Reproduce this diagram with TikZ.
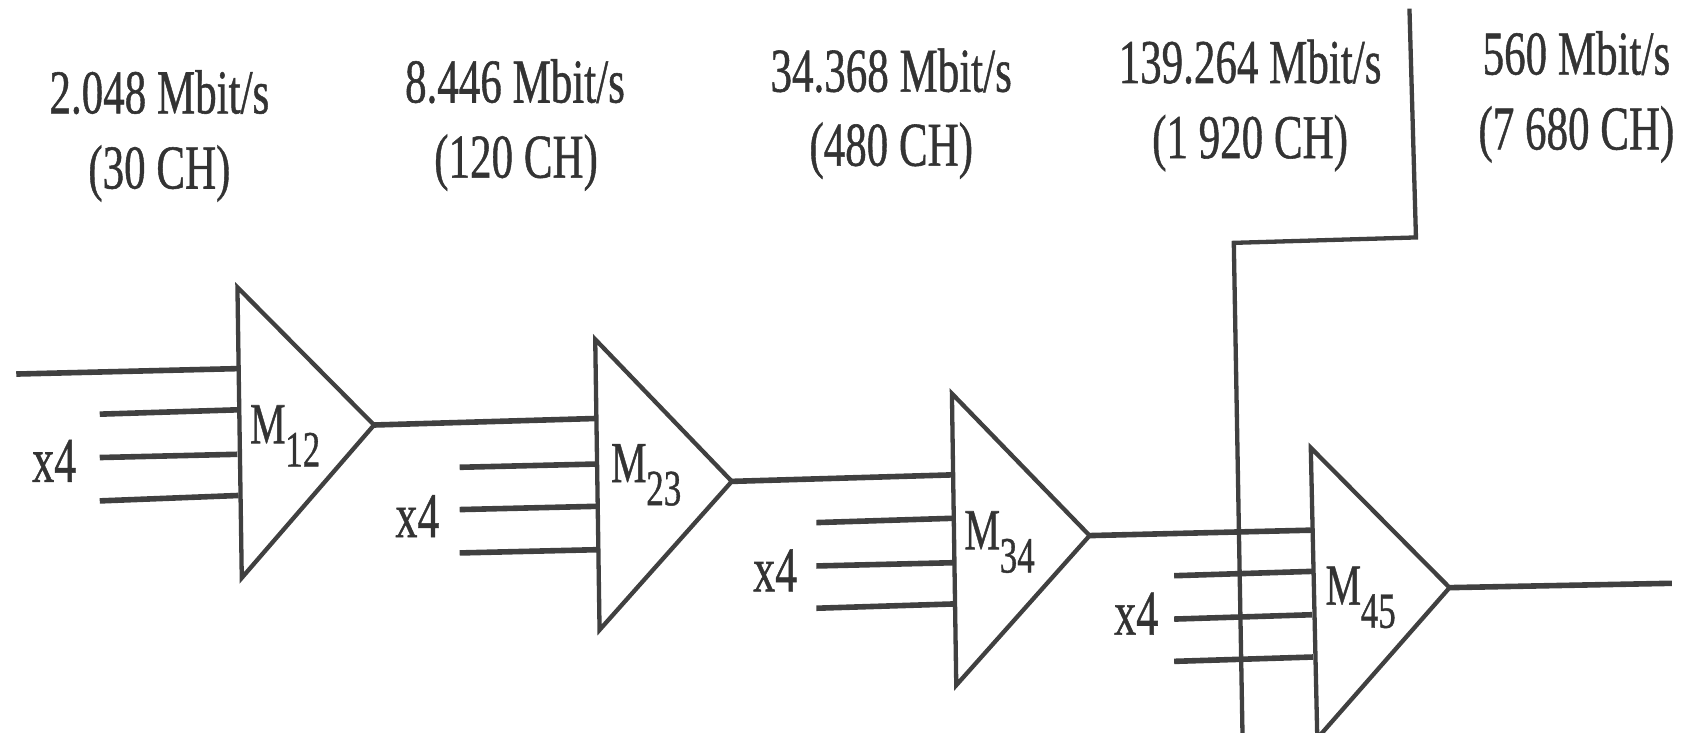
\documentclass[tikz,border=0pt]{standalone}
\usepackage{fontspec}
\setmainfont{Liberation Serif}
\newfontfamily\heavy[FakeBold=0.9]{Liberation Serif}
\definecolor{ink}{gray}{0.25}
\definecolor{txt}{gray}{0.2}
\newcommand{\lowidx}[1]{\raisebox{-0.4em}{\fontsize{35}{35}\selectfont\kern-0.01em #1}}
\tikzset{
  tri/.style={draw=ink,line width=4.3pt,line join=miter},
  wire/.style={draw=ink,line width=5.6pt},
  rate/.style={text=txt,font=\heavy\fontsize{43}{43}\selectfont,inner sep=0pt,transform shape,xscale=1,yscale=1.45,anchor=center},
  tag/.style={text=txt,font=\heavy\fontsize{44}{44}\selectfont,inner sep=0pt,transform shape,xscale=1,yscale=1.45,anchor=center},
  mlabel/.style={text=txt,font=\heavy\fontsize{40}{40}\selectfont,inner sep=0pt,transform shape,xscale=1,yscale=1.45,anchor=center}
}
\begin{document}
\begin{tikzpicture}[x=1.0842pt,y=-1.0842pt]
\useasboundingbox (0,0) rectangle (1568,675.2);
% rates
\node[rate] (r1a) at (147,85) {2.048 Mbit/s};
\node[rate] (r1b) at (147,160) {(30 CH)};
\node[rate] (r2a) at (475,75) {8.446 Mbit/s};
\node[rate] (r2b) at (476,150) {(120 CH)};
\node[rate] (r3a) at (822,65) {34.368 Mbit/s};
\node[rate] (r3b) at (822,139) {(480 CH)};
\node[rate] (r4a) at (1153,57) {139.264 Mbit/s};
\node[rate] (r4b) at (1153,132) {(1 920 CH)};
\node[rate] (r5a) at (1454,49) {560 Mbit/s};
\node[rate] (r5b) at (1454,124) {(7 680 CH)};
% triangle vertices
\coordinate (a1) at (219,265); \coordinate (b1) at (223,533); \coordinate (c1) at (345,392);
\coordinate (a2) at (549,313); \coordinate (b2) at (553,581); \coordinate (c2) at (675,444);
\coordinate (a3) at (878,363); \coordinate (b3) at (882,632); \coordinate (c3) at (1005,494);
\coordinate (a4) at (1209,413); \coordinate (b4) at (1215,681); \coordinate (c4) at (1337,542);
\draw[tri] (a1) -- (b1) -- (c1) -- cycle;
\draw[tri] (a2) -- (b2) -- (c2) -- cycle;
\draw[tri] (a3) -- (b3) -- (c3) -- cycle;
\draw[tri] (a4) -- (b4) -- (c4) -- cycle;
% M labels
\node[mlabel] (m12) at (263,402) {M\lowidx{12}};
\node[mlabel] (m23) at (596,438) {M\lowidx{23}};
\node[mlabel] (m34) at (922,500) {M\lowidx{34}};
\node[mlabel] (m45) at (1255,551) {M\lowidx{45}};
% x4 labels
\node[tag] (x1) at (50,425) {x4};
\node[tag] (x2) at (385,476) {x4};
\node[tag] (x3) at (715,526) {x4};
\node[tag] (x4) at (1048,566) {x4};
% input wires
\coordinate (in0) at (15,345); \coordinate (i10) at (219,340);
\draw[wire] (in0) -- (i10);
\coordinate (s11) at (92,382); \coordinate (e11) at (219,378);
\coordinate (s12) at (92,422); \coordinate (e12) at (219,419);
\coordinate (s13) at (92,462); \coordinate (e13) at (220,457);
\draw[wire] (s11) -- (e11); \draw[wire] (s12) -- (e12); \draw[wire] (s13) -- (e13);
\coordinate (i20) at (549,386);
\draw[wire] (c1) -- (i20);
\coordinate (s21) at (424,431); \coordinate (e21) at (550,428);
\coordinate (s22) at (424,470); \coordinate (e22) at (550,467);
\coordinate (s23) at (424,510); \coordinate (e23) at (551,507);
\draw[wire] (s21) -- (e21); \draw[wire] (s22) -- (e22); \draw[wire] (s23) -- (e23);
\coordinate (i30) at (878,438);
\draw[wire] (c2) -- (i30);
\coordinate (s31) at (753,482); \coordinate (e31) at (880,478);
\coordinate (s32) at (753,522); \coordinate (e32) at (880,519);
\coordinate (s33) at (753,561); \coordinate (e33) at (881,557);
\draw[wire] (s31) -- (e31); \draw[wire] (s32) -- (e32); \draw[wire] (s33) -- (e33);
\coordinate (i40) at (1209,489);
\draw[wire] (c3) -- (i40);
\coordinate (s41) at (1083,531); \coordinate (e41) at (1210,527);
\coordinate (s42) at (1083,571); \coordinate (e42) at (1210,567);
\coordinate (s43) at (1083,610); \coordinate (e43) at (1211,606);
\draw[wire] (s41) -- (e41); \draw[wire] (s42) -- (e42); \draw[wire] (s43) -- (e43);
\coordinate (o4) at (1542,538);
\draw[wire] (c4) -- (o4);
% bypass line
\coordinate (v0) at (1300,8); \coordinate (v1) at (1306,219); \coordinate (v2) at (1138,224); \coordinate (v3) at (1146,676);
\draw[tri] (v0) -- (v1) -- (v2) -- (v3);
\end{tikzpicture}
\end{document}
